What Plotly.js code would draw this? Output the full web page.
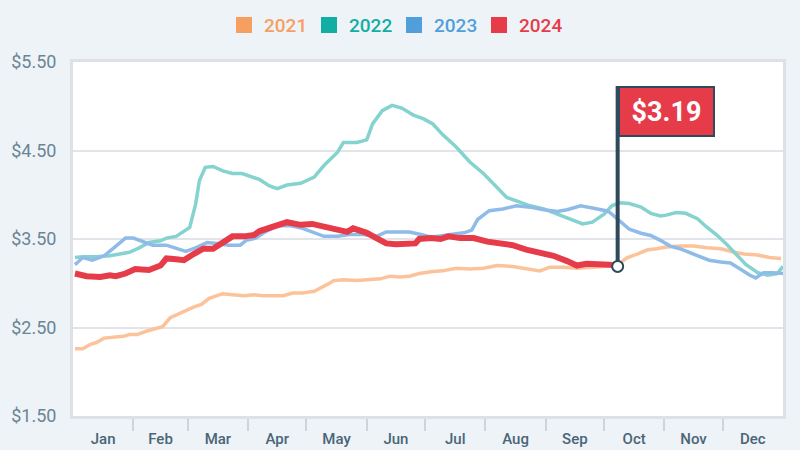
<!DOCTYPE html>
<html>
<head>
<meta charset="utf-8">
<script src="https://cdn.plot.ly/plotly-3.0.1.min.js"></script>
<style>
  html, body { margin: 0; padding: 0; background: #eef3f8; }
  #chart { width: 800px; height: 450px; }
</style>
</head>
<body>
<div id="chart"></div>
<script>
// ---------- DATA (day of year, price in $/gal) ----------
const years = ["2021", "2022", "2023", "2024"];
const legendColors = ["#f79f61", "#12ada3", "#509fdb", "#e63c4a"];
const lineColors = ["#fcc39b", "#84d3cf", "#8fbbe8", "#e63c4a"];
const lineWidths = [3.5, 3.5, 3.5, 6];

const monthLabels = ["Jan","Feb","Mar","Apr","May","Jun","Jul","Aug","Sep","Oct","Nov","Dec"];
const monthStarts = [0,31,59,90,120,151,181,212,243,273,304,334,365];

const days2021 = [1,5,9,12,16,21,26,29,33,38,43,46,50,53,58,62,66,70,74,77,82,88,93,98,103,108,113,118,124,128,131,134,139,146,153,158,163,168,173,178,184,190,197,204,211,218,226,233,240,245,252,259,266,273,280,285,290,295,300,305,312,319,326,333,340,345,352,358,364];
const vals2021 = [2.26,2.26,2.31,2.33,2.38,2.39,2.40,2.42,2.42,2.46,2.49,2.51,2.61,2.64,2.70,2.73,2.76,2.83,2.86,2.88,2.87,2.86,2.87,2.86,2.86,2.86,2.89,2.89,2.91,2.95,2.99,3.03,3.04,3.03,3.04,3.05,3.08,3.07,3.08,3.11,3.13,3.14,3.17,3.16,3.17,3.20,3.19,3.17,3.14,3.18,3.18,3.17,3.18,3.19,3.21,3.29,3.33,3.375,3.39,3.41,3.42,3.42,3.40,3.39,3.35,3.33,3.32,3.29,3.28];

const days2022 = [1,5,12,19,24,29,34,39,45,48,53,57,60,63,65,68,72,77,82,87,92,96,101,105,110,117,124,129,136,139,146,151,154,159,164,169,175,180,185,190,197,204,211,218,223,228,235,242,249,256,262,267,273,277,281,286,292,297,302,305,310,315,321,326,331,336,341,346,352,357,362,365];
const vals2022 = [3.29,3.30,3.30,3.31,3.33,3.35,3.40,3.46,3.48,3.51,3.53,3.59,3.63,3.89,4.16,4.31,4.32,4.27,4.24,4.24,4.20,4.17,4.10,4.07,4.11,4.13,4.20,4.33,4.48,4.59,4.59,4.62,4.80,4.95,5.01,4.98,4.90,4.86,4.80,4.68,4.54,4.37,4.24,4.08,3.97,3.93,3.875,3.84,3.78,3.72,3.67,3.69,3.78,3.875,3.91,3.90,3.86,3.79,3.76,3.77,3.80,3.79,3.73,3.63,3.545,3.44,3.33,3.21,3.12,3.09,3.11,3.19];

const days2023 = [1,5,10,16,21,27,31,36,41,48,55,58,63,69,74,80,86,89,94,98,105,112,118,124,129,136,142,149,156,161,166,173,180,184,194,201,205,208,214,221,228,235,242,249,254,261,267,274,276,281,286,292,297,302,307,312,317,322,327,333,338,343,348,351,355,360,365];
const vals2023 = [3.21,3.29,3.26,3.31,3.40,3.51,3.51,3.47,3.43,3.43,3.38,3.36,3.40,3.46,3.45,3.43,3.43,3.485,3.51,3.57,3.65,3.65,3.62,3.57,3.53,3.53,3.55,3.55,3.53,3.58,3.58,3.58,3.545,3.52,3.55,3.57,3.60,3.72,3.82,3.84,3.875,3.86,3.83,3.81,3.83,3.875,3.85,3.82,3.80,3.70,3.61,3.565,3.54,3.485,3.42,3.39,3.35,3.31,3.26,3.24,3.23,3.16,3.09,3.06,3.12,3.12,3.11];

const days2024 = [1,7,14,19,22,27,32,39,45,48,53,57,62,67,72,77,82,88,93,96,103,110,117,123,129,136,141,144,151,156,161,166,172,176,178,184,189,193,199,206,213,220,226,233,240,247,254,259,264,271,276,280];
const vals2024 = [3.11,3.08,3.07,3.09,3.08,3.11,3.16,3.15,3.20,3.28,3.27,3.26,3.33,3.39,3.39,3.47,3.53,3.53,3.545,3.59,3.64,3.69,3.66,3.67,3.64,3.61,3.58,3.62,3.57,3.51,3.45,3.44,3.44,3.45,3.50,3.51,3.50,3.53,3.51,3.51,3.47,3.45,3.43,3.38,3.34,3.31,3.25,3.20,3.22,3.22,3.21,3.19];

const flagTopValue = 5.23;

// ---------- BUILD ----------
const FONT = 'Roboto, "Liberation Sans", sans-serif';
const allDays = [days2021, days2022, days2023, days2024];
const allVals = [vals2021, vals2022, vals2023, vals2024];

const traces = [];
// legend-only square markers
years.forEach((yr, i) => {
  traces.push({
    x: [null], y: [null], type: "scatter", mode: "markers",
    name: '<span style="color:' + legendColors[i] + '">' + yr + '</span>',
    marker: { symbol: "square", size: 16, color: legendColors[i], line: { width: 0 } },
    showlegend: true, hoverinfo: "skip"
  });
});
// data lines
years.forEach((yr, i) => {
  traces.push({
    x: allDays[i], y: allVals[i], type: "scatter", mode: "lines",
    line: { color: lineColors[i], width: lineWidths[i], shape: "linear" },
    showlegend: false, hoverinfo: "skip"
  });
});
// flag pole + end marker for latest value
const lastDay = days2024[days2024.length - 1];
const lastVal = vals2024[vals2024.length - 1];
traces.push({
  x: [lastDay, lastDay], y: [lastVal, flagTopValue], type: "scatter", mode: "lines",
  line: { color: "#2f4a5b", width: 4 }, showlegend: false, hoverinfo: "skip"
});
traces.push({
  x: [lastDay], y: [lastVal], type: "scatter", mode: "markers",
  marker: { size: 11, color: "#ffffff", line: { color: "#2f4a5b", width: 2 } },
  showlegend: false, hoverinfo: "skip"
});

const midMonths = monthLabels.map((m, i) => (monthStarts[i] + monthStarts[i + 1]) / 2);
const boundaries = monthStarts.slice(1, 12);

const layout = {
  width: 800, height: 450,
  paper_bgcolor: "#eef3f8",
  plot_bgcolor: "#ffffff",
  margin: { l: 73, r: 17, t: 62, b: 34 },
  font: { family: FONT, color: "#5f7b8d" },
  showlegend: true,
  legend: {
    orientation: "h", xref: "container", yref: "container",
    x: 0.28, xanchor: "left", y: 0.944, yanchor: "middle",
    font: { family: FONT, size: 19, weight: 500 },
    entrywidth: 40, entrywidthmode: "pixels",
    itemclick: false, itemdoubleclick: false
  },
  xaxis: {
    range: [0, 365], fixedrange: true,
    tickmode: "array", tickvals: midMonths, ticktext: monthLabels,
    ticks: "", showgrid: false, zeroline: false,
    tickfont: { family: FONT, size: 15, color: "#4a6577", weight: 500 },
    ticklabelstandoff: 7,
    showline: true, linecolor: "#dde1e7", linewidth: 3, mirror: true,
    minor: { tickmode: "array", tickvals: boundaries, ticks: "outside", ticklen: 12, tickwidth: 2, tickcolor: "#cfd4da", showgrid: false }
  },
  yaxis: {
    range: [1.5, 5.5], fixedrange: true,
    tickmode: "array", tickvals: [1.5, 2.5, 3.5, 4.5, 5.5],
    tickformat: "$.2f", ticks: "",
    tickfont: { family: FONT, size: 18, color: "#6a8595" },
    ticklabelstandoff: 10,
    showgrid: true, gridcolor: "#e2e4e9", gridwidth: 2, zeroline: false,
    showline: true, linecolor: "#dde1e7", linewidth: 3, mirror: true
  },
  annotations: [{
    x: lastDay, y: flagTopValue, xref: "x", yref: "y",
    xanchor: "left", yanchor: "top", showarrow: false,
    text: "<b>$" + lastVal.toFixed(2) + "</b>",
    font: { family: FONT, size: 27, color: "#ffffff" },
    bgcolor: "#e63c4a", bordercolor: "#2f4a5b", borderwidth: 2, borderpad: 0,
    width: 93, height: 47, align: "center", valign: "middle"
  }]
};

Plotly.newPlot("chart", traces, layout, { staticPlot: true, displayModeBar: false });
</script>
</body>
</html>
